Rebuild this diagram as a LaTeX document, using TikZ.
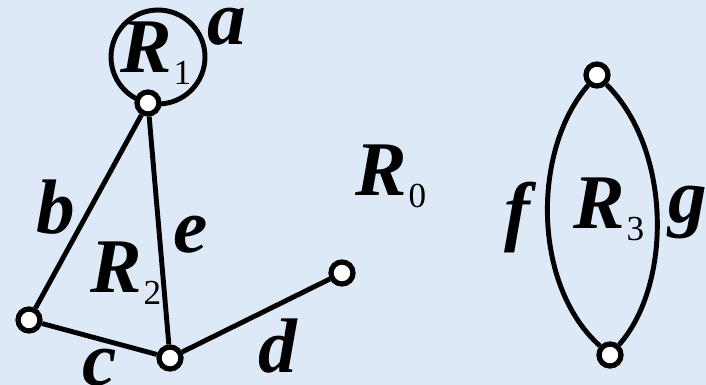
\documentclass[tikz,border=0pt]{standalone}
\usepackage{fontspec}
\setmainfont{Liberation Serif}
\definecolor{bgblue}{RGB}{221,233,246}
\newcommand{\biglab}[1]{\fontsize{44}{48}\selectfont\bfseries\itshape #1}
\newcommand{\Rsub}[1]{{\fontsize{44}{48}\selectfont\bfseries\itshape R}\kern1pt\raisebox{-7pt}{\fontsize{20}{20}\selectfont\normalfont #1}}
\begin{document}
\begin{tikzpicture}[x=0.02cm,y=-0.02cm,
  vtx/.style={circle,draw=black,fill=white,line width=3pt,inner sep=0pt,minimum size=0.44cm},
  edge/.style={draw=black,line width=2.8pt},
  lab/.style={inner sep=0pt}]
\fill[bgblue] (0,0) rectangle (706,385);
\useasboundingbox (0,0) rectangle (706,385);
% loop
\coordinate (loopc) at (158,57);
\draw[edge] (loopc) circle[radius=0.94cm];
% vertices
\node[vtx] (v1) at (148,103) {};
\node[vtx] (v2) at (29,320) {};
\node[vtx] (v3) at (170,358) {};
\node[vtx] (v4) at (342,273) {};
\node[vtx] (v5) at (597,75) {};
\node[vtx] (v6) at (610,355) {};
% edges
\draw[edge] (v1) -- (v2);
\draw[edge] (v1) -- (v3);
\draw[edge] (v2) -- (v3);
\draw[edge] (v3) -- (v4);
\draw[edge] (v5) .. controls (532,150) and (532,285) .. (v6);
\draw[edge] (v5) .. controls (672,150) and (672,285) .. (v6);
% labels
\node[lab,anchor=base west] (R1) at (120,72) {\Rsub{1}};
\node[lab,anchor=base] (la) at (227,45) {\biglab{a}};
\node[lab,anchor=base] (lb) at (56,233) {\biglab{b}};
\node[lab,anchor=base] (le) at (191,252) {\biglab{e}};
\node[lab,anchor=base west] (R2) at (90,292) {\Rsub{2}};
\node[lab,anchor=base] (lc) at (100,385) {\biglab{c}};
\node[lab,anchor=base] (ld) at (278,372) {\biglab{d}};
\node[lab,anchor=base west] (R0) at (355,195) {\Rsub{0}};
\node[lab,anchor=base] (lf) at (517,236) {\biglab{f}};
\node[lab,anchor=base west] (R3) at (573,228) {\Rsub{3}};
\node[lab,anchor=base] (lg) at (688,222) {\biglab{g}};
\end{tikzpicture}
\end{document}
